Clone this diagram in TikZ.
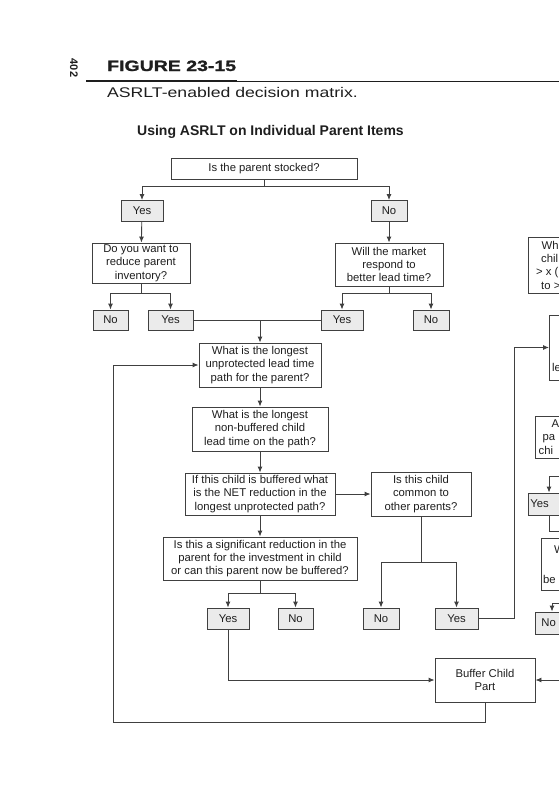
\documentclass[tikz,border=0pt]{standalone}
\usepackage{fontspec}
\setmainfont{Liberation Sans}
\newfontfamily\widefont{Liberation Sans}[FakeStretch=1.26]
\newfontfamily\figfont{Liberation Sans}[FakeStretch=1.3,FakeBold=1.4]
\usepackage{xcolor}
\definecolor{lgray}{HTML}{404040}
\definecolor{afill}{HTML}{EBEBEB}
\definecolor{ink}{HTML}{1E1E1E}
\usetikzlibrary{arrows.meta}

\begin{document}
\begin{tikzpicture}[x=1pt,y=-1pt,
    every node/.style={font=\fontsize{11.3}{13.3}\selectfont,inner sep=0pt,text=ink},
    box/.style={draw=lgray,line width=0.9pt,align=center},
    ans/.style={box,fill=afill,minimum height=21pt},
    cut/.style={box,anchor=west,text width=70pt,inner xsep=3pt,align=left},
    con/.style={draw=lgray,line width=0.9pt},
    arr/.style={con,-{Latex[length=6pt,width=5pt]}}]
\useasboundingbox (0,0) rectangle (559,800);
\clip (0,0) rectangle (559,800);

\node[rotate=-90,font=\bfseries\fontsize{11}{11}\selectfont] (page) at (74,68) {402};
\node[anchor=base west,font=\figfont\bfseries\fontsize{15}{16}\selectfont] (fig) at (107,71) {FIGURE 23-15};
\draw[ink,line width=2pt] (86,81) -- (237,81);
\draw[ink,line width=0.8pt] (237,81.5) -- (559,81.5);
\node[anchor=base west,font=\widefont\fontsize{14}{16}\selectfont] (cap) at (107,97) {ASRLT-enabled decision matrix.};
\node[anchor=base west,font=\bfseries\fontsize{14}{16}\selectfont] (title) at (137,135) {Using ASRLT on Individual Parent Items};

\node[box,minimum width=186pt,minimum height=21pt] (stocked) at (264,168.5) {Is the parent stocked?};
\node[ans,minimum width=42pt] (yesA) at (142,211) {Yes};
\node[ans,minimum width=36pt] (noA) at (389,211) {No};
\node[box,minimum width=98pt,minimum height=40pt] (reduce) at (141,263) {Do you want to\\reduce parent\\inventory?};
\node[box,minimum width=108pt,minimum height=43pt] (market) at (389,264.5) {Will the market\\respond to\\better lead time?};
\node[ans,minimum width=35pt,minimum height=20pt] (noB) at (110.5,320) {No};
\node[ans,minimum width=45pt,minimum height=20pt] (yesB) at (170.5,320) {Yes};
\node[ans,minimum width=42pt,minimum height=20pt] (yesC) at (342,320) {Yes};
\node[ans,minimum width=36pt,minimum height=20pt] (noC) at (431,320) {No};
\node[box,minimum width=122pt,minimum height=44pt] (longest) at (260,365) {What is the longest\\unprotected lead time\\path for the parent?};
\node[box,minimum width=136pt,minimum height=44pt] (child) at (260,429) {What is the longest\\non-buffered child\\lead time on the path?};
\node[box,minimum width=150pt,minimum height=42pt] (net) at (260,494) {If this child is buffered what\\is the NET reduction in the\\longest unprotected path?};
\node[box,minimum width=100pt,minimum height=44pt] (common) at (421,494) {Is this child\\common to\\other parents?};
\node[box,minimum width=194pt,minimum height=43pt] (signif) at (260,558.5) {Is this a significant reduction in the\\parent for the investment in child\\or can this parent now be buffered?};
\node[ans,minimum width=42pt] (yesD) at (228,618.5) {Yes};
\node[ans,minimum width=35pt] (noD) at (295.5,618.5) {No};
\node[ans,minimum width=36pt] (noE) at (381,618.5) {No};
\node[ans,minimum width=43pt] (yesE) at (456.5,618.5) {Yes};
\node[box,minimum width=100pt,minimum height=44pt] (buffer) at (485,680) {Buffer Child\\Part};

\node[cut,minimum height=56pt] (what) at (528,265) {};
\node[anchor=north west,align=left] (whattxt) at (536,241) {\hspace*{5.5pt}Wh\\\hspace*{5pt}chil\\{> x (}\\\hspace*{5pt}to >};
\node[cut,minimum height=65pt] (lead) at (549,347.5) {};
\node[anchor=base west] (leadtxt) at (552,371.5) {le};
\node[cut,minimum height=42pt] (all) at (535,437.5) {};
\node[anchor=north west,align=left] (alltxt) at (538.5,419.6) {\hspace*{13pt}A\\\hspace*{4pt}pa\\chi};
\node[cut,fill=afill,minimum height=22pt,inner xsep=2pt] (yesR) at (528,504) {Yes};
\node[cut,minimum height=52pt] (will) at (541,564) {};
\node[anchor=base west] (willtxt) at (554,553) {W};
\node[anchor=base west] (willtxt2) at (543,583) {be};
\node[cut,fill=afill,minimum height=22pt,inner xsep=6pt] (noR) at (535,623) {No};

\draw[arr] (stocked.south) -- ++(0,7) -| (yesA.north);
\draw[arr] (stocked.south) -- ++(0,7) -| (noA.north);
\draw[arr] (yesA) -- (reduce);
\draw[arr] (noA) -- (market);
\draw[arr] (reduce.south) -- ++(0,10) -| (noB.north);
\draw[arr] (reduce.south) -- ++(0,10) -| (yesB.north);
\draw[arr] (market.south) -- ++(0,7) -| (yesC.north);
\draw[arr] (market.south) -- ++(0,7) -| (noC.north);
\draw[con] (yesB.east) -- (yesC.west);
\draw[arr] (yesB.east -| longest.north) -- (longest.north);
\draw[arr] (longest) -- (child);
\draw[arr] (child) -- (net);
\draw[arr] (net) -- (common);
\draw[arr] (net) -- (signif);
\draw[arr] (signif.south) -- ++(0,12.5) -| (yesD.north);
\draw[arr] (signif.south) -- ++(0,12.5) -| (noD.north);
\draw[arr] (common.south) -- ++(0,45.5) -| (noE.north);
\draw[arr] (common.south) -- ++(0,45.5) -| (yesE.north);
\draw[arr] (yesD.south) |- (buffer.west);
\coordinate (loop) at (113,722);
\draw[arr] (buffer.south) |- (loop) |- (longest.west);
\coordinate (rise) at (514,0);
\draw[arr] (yesE.east) -| (rise |- lead.west) -- (lead.west);

\coordinate (ra) at (575,476.5);
\coordinate (rb) at (549,476.5);
\draw[arr] (ra) -- (rb) -- (rb |- yesR.north);
\coordinate (rc) at (575,531);
\draw[con] (rb |- yesR.south) |- (rc);
\coordinate (rd) at (575,603);
\coordinate (re) at (552,603);
\draw[arr] (rd) -- (re) -- (re |- noR.north);
\coordinate (rf) at (575,680);
\draw[arr] (rf) -- (buffer.east);
\end{tikzpicture}
\end{document}
